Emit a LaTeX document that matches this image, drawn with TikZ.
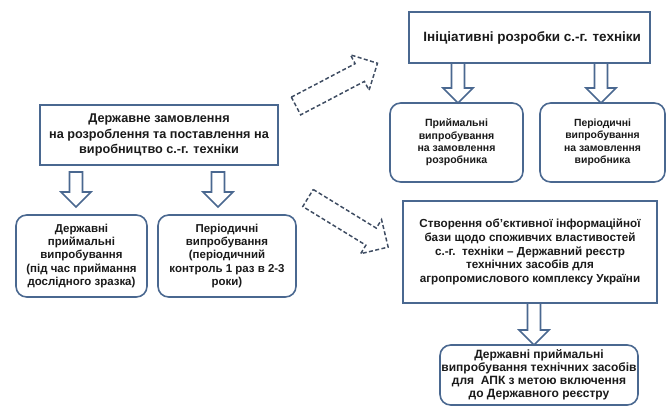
\documentclass[tikz,border=0pt]{standalone}
\usepackage{fontspec}
\setmainfont{Liberation Sans}
\definecolor{boxblue}{HTML}{4A6890}
\definecolor{dashblue}{HTML}{3E4C62}
\definecolor{txt}{HTML}{1A1A1A}
\tikzset{
  box/.style={draw=boxblue, line width=1.2pt, fill=white, align=center, inner sep=1pt,
    text=txt, font=\bfseries\fontsize{8.6}{10.1}\selectfont},
  rbox/.style={box, rounded corners=8pt},
  arrline/.style={draw=boxblue, line width=1.2pt, fill=white, line join=miter},
  dashline/.style={draw=dashblue, line width=1.1pt, dash pattern=on 3pt off 1.8pt, line join=miter},
  pics/downarr/.style={code={
    \draw[arrline] (-6.5,0) -- (-6.5,#1-15) -- (-15,#1-15) -- (0,#1) -- (15,#1-15) -- (6.5,#1-15) -- (6.5,0) -- cycle;}},
  pics/dasharr/.style={code={
    \draw[dashline] (0,-10) -- (#1-20,-10) -- (#1-20,-20) -- (#1,0) -- (#1-20,20) -- (#1-20,10) -- (0,10) -- cycle;}}
}
\begin{document}
\begin{tikzpicture}[x=0.75pt,y=-0.75pt]
\useasboundingbox (0,0) rectangle (666,408);
\fill[white] (0,0) rectangle (666,408);
% boxes
\node[box, minimum width=178.5pt, minimum height=45pt, font=\bfseries\fontsize{9.5}{11.5}\selectfont] (A) at (159,135)
  {Державне замовлення\\на розроблення та поставлення на\\виробництво с.-г. техніки};
\node[rbox, minimum width=98.25pt, minimum height=61.5pt] (B) at (81.5,256)
  {Державні\\приймальні\\випробування\\(під час приймання\\дослідного зразка)};
\node[rbox, minimum width=103.5pt, minimum height=61.5pt] (C) at (227,256)
  {Періодичні\\випробування\\(періодичний\\контроль 1 раз в 2-3\\роки)};
\node[box, minimum width=180.75pt, minimum height=38.25pt, font=\bfseries\fontsize{10.1}{12}\selectfont] (D) at (529.5,37.5)
  {\hspace*{4pt}Ініціативні розробки с.-г. техніки};
\node[rbox, minimum width=99.75pt, minimum height=59.25pt, font=\bfseries\fontsize{7.9}{9.3}\selectfont] (E) at (456.5,142.5)
  {Приймальні\\випробування\\на замовлення\\розробника};
\node[rbox, minimum width=93.75pt, minimum height=59.25pt, font=\bfseries\fontsize{7.8}{9.3}\selectfont] (F) at (602.5,142.5)
  {Періодичні\\випробування\\на замовлення\\виробника};
\node[box, minimum width=190.5pt, minimum height=76.5pt, font=\bfseries\fontsize{8.75}{10.2}\selectfont] (G) at (530,252)
  {Створення об’єктивної інформаційної\\бази щодо споживчих властивостей\\с.-г.\ \ техніки – Державний реєстр\\технічних засобів для\\агропромислового комплексу України};
\node[rbox, minimum width=148.5pt, minimum height=45pt, font=\bfseries\fontsize{9}{9.8}\selectfont] (H) at (539,375)
  {Державні приймальні\\випробування технічних засобів\\для\ \ АПК з метою включення\\до Державного реєстру};
% block arrows (top of shaft to tip)
\coordinate (a1) at (76,172);
\coordinate (a2) at (218,172);
\coordinate (a3) at (458,63);
\coordinate (a4) at (601,63);
\coordinate (a5) at (534,303);
\pic at (a1) {downarr=35};
\pic at (a2) {downarr=35};
\pic at (a3) {downarr=40};
\pic at (a4) {downarr=40};
\pic at (a5) {downarr=42};
% dashed arrows (tail centre)
\coordinate (d1) at (296,106);
\coordinate (d2) at (308,198);
\pic[rotate=27.7] at (d1) {dasharr=92};
\pic[rotate=-31.5] at (d2) {dasharr=94};
\end{tikzpicture}
\end{document}
